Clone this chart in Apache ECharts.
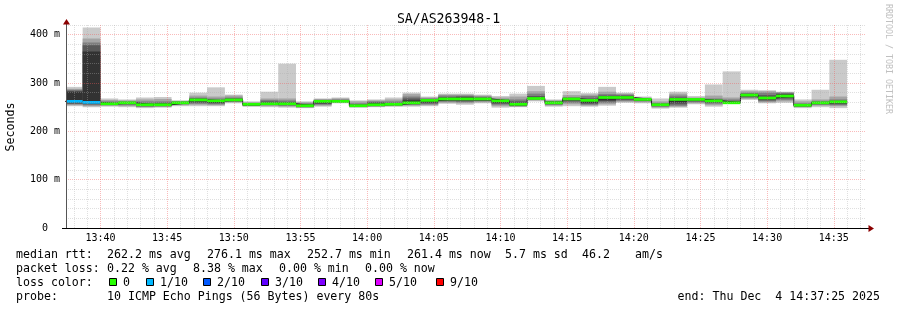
<!DOCTYPE html>
<html><head><meta charset="utf-8">
<script src="https://cdn.jsdelivr.net/npm/echarts@6/dist/echarts.min.js"></script>
<style>html,body{margin:0;padding:0;background:#fff}#c{width:897px;height:310px}</style>
</head><body><div id="c"></div>
<script>
// ---------------- data ----------------
const chartTitle = 'SA/AS263948-1';
const axisStart = '13:37:25';
const axisEnd = '14:37:25';
const stepSeconds = 80;
const binStarts = ['13:37:20','13:38:40','13:40:00','13:41:20','13:42:40','13:44:00','13:45:20','13:46:40','13:48:00','13:49:20','13:50:40','13:52:00','13:53:20','13:54:40','13:56:00','13:57:20','13:58:40','14:00:00','14:01:20','14:02:40','14:04:00','14:05:20','14:06:40','14:08:00','14:09:20','14:10:40','14:12:00','14:13:20','14:14:40','14:16:00','14:17:20','14:18:40','14:20:00','14:21:20','14:22:40','14:24:00','14:25:20','14:26:40','14:28:00','14:29:20','14:30:40','14:32:00','14:33:20','14:34:40'];
const xTickLabels = ['13:40','13:45','13:50','13:55','14:00','14:05','14:10','14:15','14:20','14:25','14:30','14:35'];
const yTickValues = [0,100,200,300,400];
const yTickLabels = ['0  ','100 m','200 m','300 m','400 m'];
// sorted ping values (ms) per bin, ping1 = fastest ... ping10 = slowest
const ping1  = [252,250,251,250,248,249,252,252,252,258,251,250,249,248,251,258,249,250,251,251,252,257,255,258,249,250,262,251,252,251,253,259,258,247,249,256,251,257,265,258,259,248,250,248];
const ping2  = [254,252,253,252,250,251,254,255,254,260,252,252,251,249,253,259,250,251,252,253,254,259,258,260,252,251,264,253,256,253,256,261,260,249,251,258,254,258,267,260,262,250,253,252];
const ping3  = [256,254,254,254,251,252,256,257,256,261,253,254,253,250,255,260,251,252,253,255,256,261,260,262,255,252,265,255,259,255,259,263,262,251,253,260,257,259,269,262,265,251,255,254];
const ping4  = [257,256,255,256,252,252,257,259,258,262,253,255,254,251,257,261,252,253,254,256,258,263,262,263,257,253,266,256,262,257,262,265,263,252,256,262,259,260,271,264,268,252,256,256];
const ping5  = [259,258,256,258,253,253,258,262,259,263,254,256,255,252,258,261,252,254,255,257,260,264,264,264,259,254,267,257,264,259,264,267,264,253,260,264,261,260,273,266,270,252,257,258];
const ping6  = [282,365,258,260,256,257,260,267,264,267,256,259,259,255,263,263,254,258,258,264,266,269,270,269,264,258,270,261,268,266,272,272,266,256,268,266,265,261,277,271,276,255,260,262];
const ping7  = [284,378,260,261,258,259,261,268,265,268,257,262,261,256,264,264,256,260,259,268,267,271,272,270,265,262,273,262,269,268,274,274,267,257,270,267,266,263,278,275,278,256,261,263];
const ping8  = [286,384,262,262,262,262,262,270,268,270,258,265,264,258,265,266,258,262,262,272,268,274,274,272,267,266,278,263,271,273,277,276,268,259,274,268,268,266,280,280,280,258,263,266];
const ping9  = [288,392,265,264,266,267,263,274,272,274,260,268,268,260,267,268,262,264,266,277,270,276,276,274,270,272,283,264,275,276,282,278,270,262,278,270,274,270,283,283,281,262,266,272];
const ping10 = [292,415,268,266,270,271,264,280,291,276,262,282,340,262,268,270,264,266,270,280,272,278,278,276,273,278,294,266,283,279,292,280,272,268,282,273,297,324,286,285,282,266,286,348];
const medianRtt = [262,260,257,259,255,255,259,265,263,265,256,257,257,253,262,262,253,255,256,259,264,267,267,267,263,256,268,259,267,264,270,270,266,255,266,266,263,259,275,269,273,254,259,261];
const lossTenths = [1,1,0,0,0,0,0,0,0,0,0,0,0,0,0,0,0,0,0,0,0,0,0,0,0,0,0,0,0,0,0,0,0,0,0,0,0,0,0,0,0,0,0,0];
const lossLevels = [0,1,2,3,4,5,9];
const lossLabels = ['0','1/10','2/10','3/10','4/10','5/10','9/10'];
const lossColors = ['#26ff00','#00b8ff','#0059ff','#5e00ff','#7e00ff','#dd00ff','#ff0000'];
const smokeColors = ['#cacaca','#a4a4a4','#7e7e7e','#585858','#323232'];
const legendLine1 = [['median rtt:',16],['262.2 ms avg',107],['276.1 ms max',207],['252.7 ms min',307],['261.4 ms now',407],['5.7 ms sd',505],['46.2',582],['am/s',635]];
const legendLine2 = [['packet loss:',16],['0.22 % avg',107],['8.38 % max',193],['0.00 % min',279],['0.00 % now',365]];
const legendLine3Label = 'loss color:';
const lossBoxX = [109,146,203,261,318,375,436];
const probeLabel = 'probe:';
const probeText = '10 ICMP Echo Pings (56 Bytes) every 80s';
const endText = 'end: Thu Dec  4 14:37:25 2025';
const sideText = 'RRDTOOL / TOBI OETIKER';

// ---------------- build ----------------
function sec(s){const p=s.split(':').map(Number);return p[0]*3600+p[1]*60+(p[2]||0);}
function hhmm(v){const h=Math.floor(v/3600),m=Math.floor((v%3600)/60);return (h<10?'0':'')+h+':'+(m<10?'0':'')+m;}
const xMin = sec(axisStart), xMax = sec(axisEnd);
const yMax = 420;
const pings = [ping1,ping2,ping3,ping4,ping5,ping6,ping7,ping8,ping9,ping10];
const mono = 'DejaVu Sans Mono';
const minorGrid = 'rgba(170,170,170,0.38)';
const majorGrid = 'rgba(240,90,90,0.42)';

function clipRect(a, b, params){
  const cs = params.coordSys;
  return echarts.graphic.clipRectByRect(
    {x:a[0], y:a[1], width:b[0]-a[0], height:b[1]-a[1]},
    {x:cs.x, y:cs.y, width:cs.width, height:cs.height});
}
function rectItem(color){
  return function(params, api){
    const a = api.coord([api.value(0), api.value(3)]);
    const b = api.coord([api.value(1), api.value(2)]);
    const shape = clipRect(a, b, params);
    return shape && {type:'rect', shape:shape, style:{fill:color}};
  };
}

const series = [];
for (let i = 0; i < 5; i++) {
  const lo = pings[i], hi = pings[9 - i];
  series.push({
    type:'custom', name:'smoke'+(i+1), z:2, silent:true, clip:true,
    renderItem: rectItem(smokeColors[i]),
    data: binStarts.map((t,k)=>[sec(t), sec(t)+stepSeconds, lo[k], hi[k]])
  });
}
const medLine = [];
binStarts.forEach((t,k)=>{ medLine.push([sec(t), medianRtt[k]]); medLine.push([sec(t)+stepSeconds, medianRtt[k]]); });
series.push({type:'line', name:'median', z:3, silent:true, clip:true, symbol:'none', animation:false,
  lineStyle:{color:'#202020', width:1}, data: medLine});
const sw = 2.8;
series.push({
  type:'custom', name:'loss', z:4, silent:true, clip:true,
  renderItem: function(params, api){
    const m = api.value(2);
    const a = api.coord([api.value(0), m + sw]);
    const b = api.coord([api.value(1), m - sw]);
    const shape = clipRect(a, b, params);
    const c = lossColors[lossLevels.indexOf(api.value(3))];
    return shape && {type:'rect', shape:shape, style:{fill:c}};
  },
  data: binStarts.map((t,k)=>[sec(t), sec(t)+stepSeconds, medianRtt[k], lossTenths[k]])
});
const minuteLines = [];
for (let t = Math.ceil(xMin/60)*60; t <= xMax; t += 60) minuteLines.push([t]);
series.push({
  type:'custom', name:'vgrid', z:6, silent:true,
  renderItem: function(params, api){
    const t = api.value(0);
    const p = api.coord([t, 0]);
    const q = api.coord([t, yMax]);
    const x = Math.round(p[0]) + 0.5;
    const major = (t % 300) === 0;
    return {type:'line', shape:{x1:x, y1:p[1], x2:x, y2:q[1]},
      style:{stroke: major ? majorGrid : minorGrid, lineWidth:1, lineDash:[1,1]}};
  },
  data: minuteLines
});

const chart = echarts.init(document.getElementById('c'), null, {renderer:'canvas'});
chart.setOption({
  animation:false,
  backgroundColor:'#ffffff',
  textStyle:{fontFamily:mono},
  grid:{left:66, right:31, top:25, bottom:82, containLabel:false, outerBoundsMode:'none'},
  xAxis:{
    type:'value', min:xMin, max:xMax, z:7,
    axisLine:{show:true, onZero:false, lineStyle:{color:'#000', width:1}},
    axisTick:{show:false},
    splitLine:{show:false},
    axisLabel:{customValues: xTickLabels.map(sec), formatter:v=>hhmm(v), color:'#000',
      fontFamily:mono, fontSize:10, margin:5}
  },
  yAxis:{
    type:'value', min:0, max:yMax, interval:20, z:6,
    axisLine:{show:true, lineStyle:{color:'#555', width:1}},
    axisTick:{show:false},
    splitLine:{show:true, lineStyle:{type:[1,1], width:1,
      color:[majorGrid, minorGrid, minorGrid, minorGrid, minorGrid]}},
    axisLabel:{formatter:v=>{const i=yTickValues.indexOf(v);return i<0?'':yTickLabels[i];},
      color:'#000', fontFamily:mono, fontSize:10, margin:6}
  },
  series: series
});

const tl = chart.convertToPixel({gridIndex:0}, [xMin, yMax]);
const br = chart.convertToPixel({gridIndex:0}, [xMax, 0]);
const ax = Math.round(tl[0]) + 0.5, ay = Math.round(br[1]) + 0.5;
const g = [];
g.push({type:'text', x:448.5, y:19.5, style:{text:chartTitle, font:'13.2px "DejaVu Sans Mono"', fill:'#000', align:'center', verticalAlign:'middle'}});
g.push({type:'text', x:11, y:127, rotation:Math.PI/2, style:{text:'Seconds', font:'11.6px "DejaVu Sans Mono"', fill:'#000', align:'center', verticalAlign:'middle'}});
g.push({type:'text', x:888.5, y:59, rotation:-Math.PI/2, style:{text:sideText, font:'8.3px "DejaVu Sans Mono"', fill:'#c0c0c0', align:'center', verticalAlign:'middle'}});
g.push({type:'line', shape:{x1:ax, y1:tl[1], x2:ax, y2:tl[1]-3}, style:{stroke:'#555', lineWidth:1}, z:20});
g.push({type:'polygon', shape:{points:[[ax-3.5, tl[1]-0.5],[ax+3.5, tl[1]-0.5],[ax, tl[1]-6]]}, style:{fill:'#8b0000'}, z:20});
g.push({type:'line', shape:{x1:br[0], y1:ay, x2:br[0]+3, y2:ay}, style:{stroke:'#000', lineWidth:1}, z:20});
g.push({type:'line', shape:{x1:tl[0]-4, y1:ay, x2:tl[0], y2:ay}, style:{stroke:'#000', lineWidth:1}, z:20});
g.push({type:'polygon', shape:{points:[[br[0]+2.5, ay-3.5],[br[0]+2.5, ay+3.5],[br[0]+8, ay]]}, style:{fill:'#8b0000'}, z:20});
const lf = '11.6px "DejaVu Sans Mono"';
function txt(s, x, y, align){ g.push({type:'text', x:x, y:y, style:{text:s, font:lf, fill:'#000', align:align||'left', verticalAlign:'middle'}}); }
legendLine1.forEach(it=>txt(it[0], it[1], 255));
legendLine2.forEach(it=>txt(it[0], it[1], 268.7));
txt(legendLine3Label, 16, 282.6);
lossLabels.forEach((s,i)=>{
  g.push({type:'rect', shape:{x:lossBoxX[i]+0.5, y:278.5, width:7, height:7}, style:{fill:lossColors[i], stroke:'#000', lineWidth:1}});
  txt(s, lossBoxX[i]+14, 282.6);
});
txt(probeLabel, 16, 296.7);
txt(probeText, 107, 296.7);
txt(endText, 880, 296.7, 'right');
chart.setOption({graphic:{elements:g}});
</script></body></html>
